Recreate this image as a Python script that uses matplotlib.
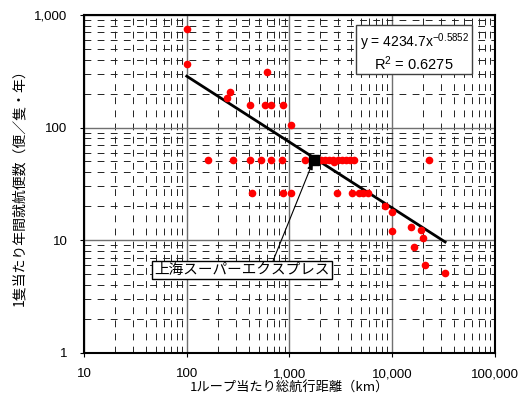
import numpy as np
import matplotlib
matplotlib.use("Agg")
import matplotlib.pyplot as plt
from matplotlib.ticker import FuncFormatter, LogLocator
from matplotlib.patches import Rectangle

plt.rcParams['font.family'] = ['Liberation Sans', 'Noto Sans CJK JP', 'DejaVu Sans']
plt.rcParams['mathtext.fontset'] = 'custom'
plt.rcParams['mathtext.rm'] = 'Liberation Sans'
plt.rcParams['mathtext.it'] = 'Liberation Sans'

# 1ループ当たり総航行距離 (km) と 1隻当たり年間就航便数
x_dist = [100, 100, 246, 265, 604, 416, 582, 665, 865, 1035,
          160, 282, 416, 525, 665, 840, 1425, 2012, 2216, 2440, 2670,
          2945, 3220, 3548, 3880, 4272, 22800, 2730,
          429, 865, 1035, 2920, 4085, 4780, 5230, 5770,
          8440, 10000, 10000, 15200, 18900, 19900, 16400, 20700, 32800]
y_freq = [750, 370, 184, 208, 314, 159, 159, 159, 159, 106,
          52, 52, 52, 52, 52, 52, 52, 52, 52, 52, 52,
          52, 52, 52, 52, 52, 52, 49,
          26, 26, 26, 26, 26, 26, 26, 26,
          20.1, 17.7, 12.1, 13.1, 12.2, 10.5, 8.75, 6.0, 5.1]

# 上海スーパーエクスプレス
sse_x, sse_y = 1730, 52
sse_label = "上海スーパーエクスプレス"

# power trend line y = a * x^b
coef_a = 4234.7
coef_b = -0.5852
r2 = 0.6275

fig = plt.figure(figsize=(5.22, 4.05), dpi=100)
ax = fig.add_axes([0.161, 0.129, 0.787, 0.834])
ax.set_xscale('log')
ax.set_yscale('log')
ax.set_xlim(10, 100000)
ax.set_ylim(1, 1000)

# grid
ax.xaxis.set_minor_locator(LogLocator(base=10, subs=np.arange(2, 10)))
ax.yaxis.set_minor_locator(LogLocator(base=10, subs=np.arange(2, 10)))
ax.grid(which='major', color='#707070', linestyle='-', linewidth=1.0)
ax.grid(which='minor', color='#222222', linestyle=(0, (7, 6.5)), linewidth=0.7)
ax.set_axisbelow(True)

# trend line
xs = np.array([min(x_dist), max(x_dist)])
ys = coef_a * xs ** coef_b
ax.plot(xs, ys, color='black', linewidth=2, zorder=3)

ax.plot(x_dist, y_freq, 'o', color='#ff0000', markersize=5.5,
        markeredgewidth=0, zorder=4)
ax.plot([sse_x], [sse_y], 's', color='black', markersize=7, zorder=5)

ax.annotate(sse_label, xy=(sse_x, sse_y), xytext=(347, 5.4),
            textcoords='data', ha='center', va='center', fontsize=10.5,
            family=['Noto Sans CJK JP'],
            bbox=dict(boxstyle='square,pad=0.15', fc='white', ec='black', lw=1),
            arrowprops=dict(arrowstyle='-|>,head_length=0.4,head_width=0.15',
                            color='black', lw=0.8, relpos=(0.67, 1.0),
                            shrinkA=0, shrinkB=2),
            zorder=6)

# equation box
ax.add_patch(Rectangle((0.662, 0.825), 0.282, 0.145, transform=ax.transAxes,
                       facecolor='white', edgecolor='#404040', lw=1, zorder=6))
ax.text(0.805, 0.918, "y = 4234.7x$^{\\mathrm{" + "%.4f" % coef_b + "}}$",
        transform=ax.transAxes, ha='center', va='center', fontsize=10, zorder=7)
ax.text(0.803, 0.857, "R$^{\\mathrm{2}}$ = %.4f" % r2,
        transform=ax.transAxes, ha='center', va='center', fontsize=10.5, zorder=7)

fmt = FuncFormatter(lambda v, p: "{:,.0f}".format(v))
ax.xaxis.set_major_formatter(fmt)
ax.yaxis.set_major_formatter(fmt)
ax.tick_params(which='major', direction='out', length=3, labelsize=9.5, pad=9)
ax.tick_params(which='minor', length=0)
ax.tick_params(axis='x', pad=8)

for s in ax.spines.values():
    s.set_linewidth(1.5)
    s.set_color('black')
    s.set_zorder(8)

ax.set_xlabel("1ループ当たり総航行距離（km）", fontsize=9.5,
              family=['Noto Sans CJK JP'], labelpad=1)
ax.set_ylabel("1隻当たり年間就航便数（便／隻・年）", fontsize=10,
              family=['Noto Sans CJK JP'])
ax.yaxis.set_label_coords(-0.14, 0.5)

fig.savefig("out.png", dpi=100)
